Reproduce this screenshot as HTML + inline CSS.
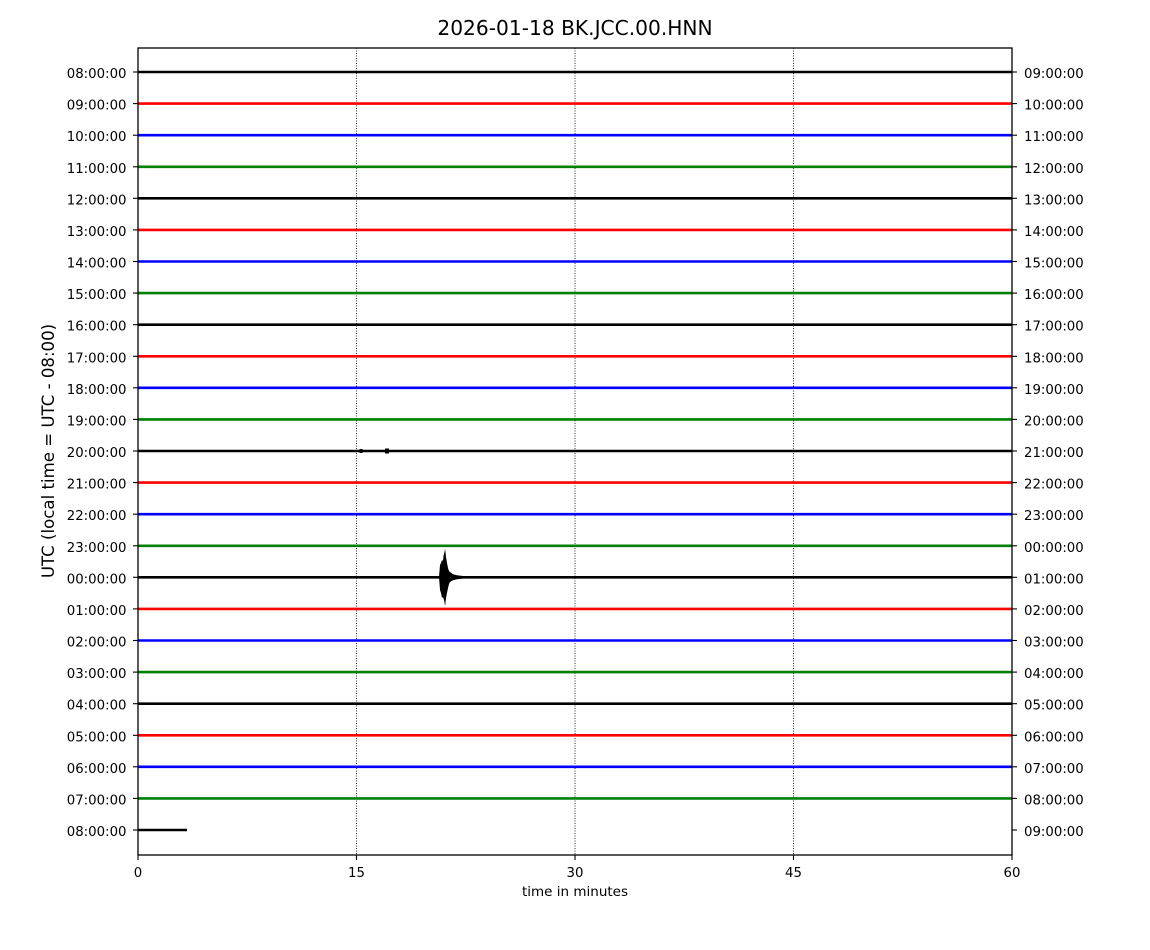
<!DOCTYPE html>
<html><head><meta charset="utf-8"><style>
html,body{margin:0;padding:0;background:#fff;}
svg{display:block;}
text{font-family:"DejaVu Sans","Liberation Sans",sans-serif;fill:#000;}
</style></head><body>
<svg width="1150" height="950" viewBox="0 0 1150 950" xmlns="http://www.w3.org/2000/svg">
<rect width="1150" height="950" fill="#fff"/>
<text x="575" y="35" font-size="20.2" text-anchor="middle">2026-01-18 BK.JCC.00.HNN</text>
<!-- grid -->
<g stroke="#000" stroke-width="0.8" stroke-dasharray="1,1.5">
<line x1="356.5" y1="48" x2="356.5" y2="855"/>
<line x1="575" y1="48" x2="575" y2="855"/>
<line x1="793.5" y1="48" x2="793.5" y2="855"/>
</g>
<!-- traces -->
<g stroke-width="2.6" fill="none">
<line x1="138" x2="1012" y1="72" y2="72" stroke="#000"/>
<line x1="138" x2="1012" y1="103.6" y2="103.6" stroke="#f00"/>
<line x1="138" x2="1012" y1="135.2" y2="135.2" stroke="#00f"/>
<line x1="138" x2="1012" y1="166.8" y2="166.8" stroke="#008000"/>
<line x1="138" x2="1012" y1="198.3" y2="198.3" stroke="#000"/>
<line x1="138" x2="1012" y1="229.9" y2="229.9" stroke="#f00"/>
<line x1="138" x2="1012" y1="261.5" y2="261.5" stroke="#00f"/>
<line x1="138" x2="1012" y1="293.1" y2="293.1" stroke="#008000"/>
<line x1="138" x2="1012" y1="324.7" y2="324.7" stroke="#000"/>
<line x1="138" x2="1012" y1="356.3" y2="356.3" stroke="#f00"/>
<line x1="138" x2="1012" y1="387.8" y2="387.8" stroke="#00f"/>
<line x1="138" x2="1012" y1="419.4" y2="419.4" stroke="#008000"/>
<line x1="138" x2="1012" y1="451" y2="451" stroke="#000"/>
<line x1="138" x2="1012" y1="482.6" y2="482.6" stroke="#f00"/>
<line x1="138" x2="1012" y1="514.2" y2="514.2" stroke="#00f"/>
<line x1="138" x2="1012" y1="545.8" y2="545.8" stroke="#008000"/>
<line x1="138" x2="1012" y1="577.3" y2="577.3" stroke="#000"/>
<line x1="138" x2="1012" y1="608.9" y2="608.9" stroke="#f00"/>
<line x1="138" x2="1012" y1="640.5" y2="640.5" stroke="#00f"/>
<line x1="138" x2="1012" y1="672.1" y2="672.1" stroke="#008000"/>
<line x1="138" x2="1012" y1="703.7" y2="703.7" stroke="#000"/>
<line x1="138" x2="1012" y1="735.3" y2="735.3" stroke="#f00"/>
<line x1="138" x2="1012" y1="766.8" y2="766.8" stroke="#00f"/>
<line x1="138" x2="1012" y1="798.4" y2="798.4" stroke="#008000"/>
<line x1="138" x2="187" y1="830" y2="830" stroke="#000"/>
</g>
<!-- blips -->
<rect x="359.5" y="449" width="3" height="4" fill="#000"/>
<rect x="385" y="448.5" width="4" height="5" fill="#000"/>
<!-- event -->
<path d="M439,577 L440,565 L441,563 L442,560 L443,561 L443.5,556 L444.5,552 L445,549 L445.6,553 L446,557 L447,563 L448,568 L449,571 L450,572 L453,574.3 L457,575.3 L463,576 L463,578.5 L457,579.3 L453,580.3 L450,582 L449,584 L448,588 L447,593 L446,598 L445.5,603 L445,606 L444.3,601 L443,597 L442,598 L441,593 L440,590 Z" fill="#000"/>
<!-- axes frame -->
<rect x="138" y="48" width="874" height="807" fill="none" stroke="#000" stroke-width="1.3"/>
<!-- ticks -->
<g stroke="#000" stroke-width="1.1">
<line x1="133" x2="138" y1="72" y2="72"/><line x1="133" x2="138" y1="103.6" y2="103.6"/><line x1="133" x2="138" y1="135.2" y2="135.2"/><line x1="133" x2="138" y1="166.8" y2="166.8"/><line x1="133" x2="138" y1="198.3" y2="198.3"/><line x1="133" x2="138" y1="229.9" y2="229.9"/><line x1="133" x2="138" y1="261.5" y2="261.5"/><line x1="133" x2="138" y1="293.1" y2="293.1"/><line x1="133" x2="138" y1="324.7" y2="324.7"/><line x1="133" x2="138" y1="356.3" y2="356.3"/><line x1="133" x2="138" y1="387.8" y2="387.8"/><line x1="133" x2="138" y1="419.4" y2="419.4"/><line x1="133" x2="138" y1="451" y2="451"/><line x1="133" x2="138" y1="482.6" y2="482.6"/><line x1="133" x2="138" y1="514.2" y2="514.2"/><line x1="133" x2="138" y1="545.8" y2="545.8"/><line x1="133" x2="138" y1="577.3" y2="577.3"/><line x1="133" x2="138" y1="608.9" y2="608.9"/><line x1="133" x2="138" y1="640.5" y2="640.5"/><line x1="133" x2="138" y1="672.1" y2="672.1"/><line x1="133" x2="138" y1="703.7" y2="703.7"/><line x1="133" x2="138" y1="735.3" y2="735.3"/><line x1="133" x2="138" y1="766.8" y2="766.8"/><line x1="133" x2="138" y1="798.4" y2="798.4"/><line x1="133" x2="138" y1="830" y2="830"/>
<line x1="1012" x2="1017" y1="72" y2="72"/><line x1="1012" x2="1017" y1="103.6" y2="103.6"/><line x1="1012" x2="1017" y1="135.2" y2="135.2"/><line x1="1012" x2="1017" y1="166.8" y2="166.8"/><line x1="1012" x2="1017" y1="198.3" y2="198.3"/><line x1="1012" x2="1017" y1="229.9" y2="229.9"/><line x1="1012" x2="1017" y1="261.5" y2="261.5"/><line x1="1012" x2="1017" y1="293.1" y2="293.1"/><line x1="1012" x2="1017" y1="324.7" y2="324.7"/><line x1="1012" x2="1017" y1="356.3" y2="356.3"/><line x1="1012" x2="1017" y1="387.8" y2="387.8"/><line x1="1012" x2="1017" y1="419.4" y2="419.4"/><line x1="1012" x2="1017" y1="451" y2="451"/><line x1="1012" x2="1017" y1="482.6" y2="482.6"/><line x1="1012" x2="1017" y1="514.2" y2="514.2"/><line x1="1012" x2="1017" y1="545.8" y2="545.8"/><line x1="1012" x2="1017" y1="577.3" y2="577.3"/><line x1="1012" x2="1017" y1="608.9" y2="608.9"/><line x1="1012" x2="1017" y1="640.5" y2="640.5"/><line x1="1012" x2="1017" y1="672.1" y2="672.1"/><line x1="1012" x2="1017" y1="703.7" y2="703.7"/><line x1="1012" x2="1017" y1="735.3" y2="735.3"/><line x1="1012" x2="1017" y1="766.8" y2="766.8"/><line x1="1012" x2="1017" y1="798.4" y2="798.4"/><line x1="1012" x2="1017" y1="830" y2="830"/>
<line x1="138" x2="138" y1="855" y2="860"/><line x1="356.5" x2="356.5" y1="855" y2="860"/><line x1="575" x2="575" y1="855" y2="860"/><line x1="793.5" x2="793.5" y1="855" y2="860"/><line x1="1012" x2="1012" y1="855" y2="860"/>
</g>
<g font-size="13.3" text-anchor="end">
<text x="126.5" y="78">08:00:00</text><text x="126.5" y="109.6">09:00:00</text><text x="126.5" y="141.2">10:00:00</text><text x="126.5" y="172.8">11:00:00</text><text x="126.5" y="204.3">12:00:00</text><text x="126.5" y="235.9">13:00:00</text><text x="126.5" y="267.5">14:00:00</text><text x="126.5" y="299.1">15:00:00</text><text x="126.5" y="330.7">16:00:00</text><text x="126.5" y="362.3">17:00:00</text><text x="126.5" y="393.8">18:00:00</text><text x="126.5" y="425.4">19:00:00</text><text x="126.5" y="457">20:00:00</text><text x="126.5" y="488.6">21:00:00</text><text x="126.5" y="520.2">22:00:00</text><text x="126.5" y="551.8">23:00:00</text><text x="126.5" y="583.3">00:00:00</text><text x="126.5" y="614.9">01:00:00</text><text x="126.5" y="646.5">02:00:00</text><text x="126.5" y="678.1">03:00:00</text><text x="126.5" y="709.7">04:00:00</text><text x="126.5" y="741.3">05:00:00</text><text x="126.5" y="772.8">06:00:00</text><text x="126.5" y="804.4">07:00:00</text><text x="126.5" y="836">08:00:00</text>
</g>
<g font-size="13.3" text-anchor="start">
<text x="1024" y="78">09:00:00</text><text x="1024" y="109.6">10:00:00</text><text x="1024" y="141.2">11:00:00</text><text x="1024" y="172.8">12:00:00</text><text x="1024" y="204.3">13:00:00</text><text x="1024" y="235.9">14:00:00</text><text x="1024" y="267.5">15:00:00</text><text x="1024" y="299.1">16:00:00</text><text x="1024" y="330.7">17:00:00</text><text x="1024" y="362.3">18:00:00</text><text x="1024" y="393.8">19:00:00</text><text x="1024" y="425.4">20:00:00</text><text x="1024" y="457">21:00:00</text><text x="1024" y="488.6">22:00:00</text><text x="1024" y="520.2">23:00:00</text><text x="1024" y="551.8">00:00:00</text><text x="1024" y="583.3">01:00:00</text><text x="1024" y="614.9">02:00:00</text><text x="1024" y="646.5">03:00:00</text><text x="1024" y="678.1">04:00:00</text><text x="1024" y="709.7">05:00:00</text><text x="1024" y="741.3">06:00:00</text><text x="1024" y="772.8">07:00:00</text><text x="1024" y="804.4">08:00:00</text><text x="1024" y="836">09:00:00</text>
</g>
<g font-size="13.3" text-anchor="middle">
<text x="138" y="877">0</text><text x="356.5" y="877">15</text><text x="575" y="877">30</text><text x="793.5" y="877">45</text><text x="1012" y="877">60</text>
<text x="575" y="896" font-size="13.5">time in minutes</text>
</g>
<text x="0" y="0" font-size="16.6" text-anchor="middle" transform="translate(54,451) rotate(-90)">UTC (local time = UTC - 08:00)</text>
</svg>
</body></html>
